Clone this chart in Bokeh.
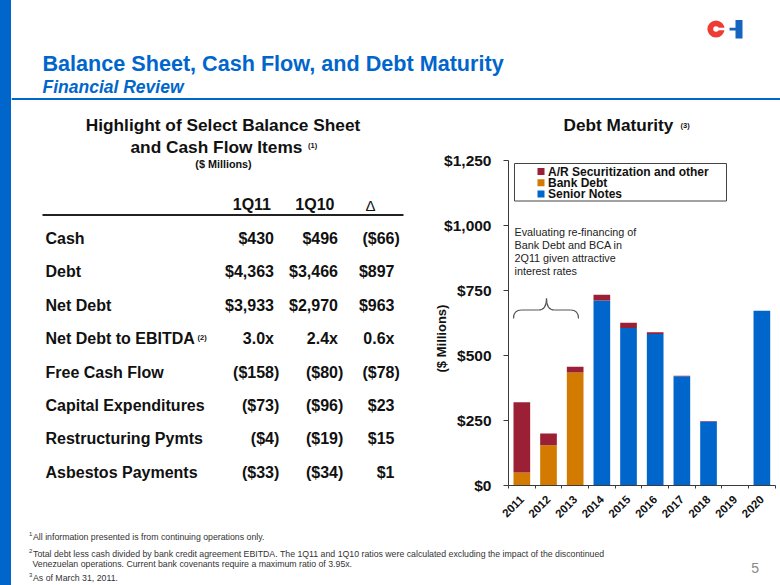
from math import pi
from bokeh.plotting import figure
from bokeh.models import (Range1d, LinearAxis, FixedTicker, NumeralTickFormatter,
                          ColumnDataSource, Div)
from bokeh.layouts import column, row
from bokeh.core.properties import value
from bokeh.embed import file_html
from bokeh.resources import INLINE

# ------------------------------------------------------------------ data
years = ["2011", "2012", "2013", "2014", "2015", "2016", "2017", "2018", "2019", "2020"]
senior_notes = [0, 0, 0, 712, 606, 583, 420, 246, 0, 672]
bank_debt = [50, 155, 435, 0, 0, 0, 0, 0, 0, 0]
ar_securitization = [270, 45, 22, 22, 20, 6, 2, 2, 0, 0]
series_names = ["Senior Notes", "Bank Debt", "A/R Securitization and other"]
y_ticks = [0, 250, 500, 750, 1000, 1250]

row_labels = ["Cash", "Debt", "Net Debt", "Net Debt to EBITDA", "Free Cash Flow",
              "Capital Expenditures", "Restructuring Pymts", "Asbestos Payments"]
col_headers = ["1Q11", "1Q10", "\u0394"]
vals_1q11 = ["$430", "$4,363", "$3,933", "3.0x", "($158)", "($73)", "($4)", "($33)"]
vals_1q10 = ["$496", "$3,466", "$2,970", "2.4x", "($80)", "($96)", "($19)", "($34)"]
vals_delta = ["($66)", "$897", "$963", "0.6x", "($78)", "$23", "$15", "$1"]

footnote_1 = "All information presented is from continuing operations only."
footnote_2a = ("Total debt less cash divided by bank credit agreement EBITDA. The 1Q11 and 1Q10 "
               "ratios were calculated excluding the impact of the discontinued")
footnote_2b = "Venezuelan operations. Current bank covenants require a maximum ratio of 3.95x."
footnote_3 = "As of March 31, 2011."

# ------------------------------------------------------------------ style
BLUE = "#0066CC"
ORANGE = "#D27B00"
MAROON = "#9B1F35"
FONT = "Liberation Sans"
INK = "#111111"
AXC = "#3a3a3a"
NBSP = "\u00a0"


def blank(w, h, x0, y0, bottom_border=0):
    p = figure(width=w, height=h, x_range=Range1d(x0, x0 + w),
               y_range=Range1d(y0 + h - bottom_border, y0),
               output_backend="svg", toolbar_location=None, x_axis_type=None,
               y_axis_type=None, min_border=0, min_border_bottom=bottom_border,
               outline_line_color=None, background_fill_color="white",
               border_fill_color="white")
    return p


def txt(p, x, y, s, size, style="normal", color=INK, align="left", **kw):
    """y is the alphabetic baseline; drawn with a middle baseline."""
    xs = x if isinstance(x, list) else [x]
    ys = y if isinstance(y, list) else [y]
    ss = s if isinstance(s, list) else [s]
    p.text(x=xs, y=[v - 0.35 * size for v in ys], text=ss, text_font=value(FONT),
           text_font_size=f"{size}px", text_font_style=style, text_color=color,
           text_align=align, text_baseline="middle", **kw)


# ------------------------------------------------------------------ left strip
strip = Div(text="", width=11, height=585, margin=0, styles={"background-color": BLUE})

# ------------------------------------------------------------------ header
head = blank(769, 108, 11, 0)
txt(head, 42, 71, "Balance Sheet, Cash Flow, and Debt Maturity", 21.6, "bold", BLUE)
txt(head, 42, 92.5, "Financial Review", 17.5, "bold italic", BLUE)
head.segment(x0=[11], y0=[98.5], x1=[780], y1=[98.5], line_color=BLUE, line_width=2)
# logo
head.circle(x=[715.5], y=[28.5], radius=8.6, fill_color="#EE3B33", line_color=None)
head.circle(x=[715.5], y=[28.5], radius=2.8, fill_color="white", line_color=None)
head.quad(left=[715.5], right=[725], top=[27.3], bottom=[29.8], fill_color="white", line_color=None)
head.quad(left=[729], right=[736], top=[27.3], bottom=[30], fill_color="#1565C0", line_color=None)
head.quad(left=[735], right=[742], top=[19.5], bottom=[38], fill_color="#1565C0", line_color=None)

# ------------------------------------------------------------------ table (left)
FR_T, FR_B = 108, 485
tab = blank(404, 418, 11, 108, bottom_border=526 - FR_B)
txt(tab, 222.5, 131, "Highlight of Select Balance Sheet", 17.3, "bold", align="center")
txt(tab, 130, 152.5, "and Cash Flow Items", 17.3, "bold")
txt(tab, 307.5, 148, "(1)", 7.5, "bold")
txt(tab, 223, 167.5, "($ Millions)", 10.8, "bold", align="center")

txt(tab, [270.5, 334], [210, 210], col_headers[:2], 16, "bold", align="right")
txt(tab, 370, 210, col_headers[2], 15, "normal", align="center")
tab.segment(x0=[42], y0=[214.5], x1=[403], y1=[214.5], line_color="#222222", line_width=2)

row_base = [243.3 + 33.45 * i for i in range(len(row_labels))]
txt(tab, [45] * len(row_labels), row_base, row_labels, 16, "bold")
PAREN = 5.3
for col_right, vals in ((273.5, vals_1q11), (337.5, vals_1q10), (394.0, vals_delta)):
    xs = [col_right + (PAREN if v.endswith(")") else 0) for v in vals]
    txt(tab, xs, row_base, vals, 16, "bold", align="right")
txt(tab, 197, row_base[3] - 4.5, "(2)", 7.5, "bold")

# ------------------------------------------------------------------ chart (right)
CAT_W = 26.67
FR_L, FR_R = 508, 780
Y0_PX, YTOP_PX = 485, 160
chart = figure(width=FR_R - 415, height=418,
               x_range=Range1d(0, (FR_R - FR_L) / CAT_W),
               y_range=Range1d(0, y_ticks[-1] * (FR_B - FR_T) / (Y0_PX - YTOP_PX)),
               output_backend="svg", toolbar_location=None, x_axis_type=None,
               y_axis_type=None, min_border_left=FR_L - 415, min_border_right=0,
               min_border_top=0, min_border_bottom=526 - FR_B, outline_line_color=None,
               background_fill_color="white", border_fill_color="white")
chart.extra_x_ranges = {"px": Range1d(FR_L, FR_R)}
chart.extra_y_ranges = {"py": Range1d(FR_B, FR_T)}

centers = [i + 0.5 for i in range(len(years))]
src = ColumnDataSource(dict(x=centers, senior=senior_notes, bank=bank_debt, ar=ar_securitization))
chart.vbar_stack(["senior", "bank", "ar"], x="x", width=0.625, source=src,
                 fill_color=[BLUE, ORANGE, MAROON], line_color=None)

yax = LinearAxis(ticker=FixedTicker(ticks=y_ticks), formatter=NumeralTickFormatter(format="$0,0"),
                 bounds=(y_ticks[0], y_ticks[-1]), major_tick_in=0, major_tick_out=5,
                 minor_tick_in=0, minor_tick_out=0, major_label_standoff=12,
                 major_label_text_font=FONT, major_label_text_font_style="bold",
                 major_label_text_font_size="15.5px", major_label_text_color=INK,
                 axis_line_color=AXC, major_tick_line_color=AXC,
                 axis_label="($ Millions)" + NBSP * 23, axis_label_standoff=-8,
                 axis_label_text_font=FONT, axis_label_text_font_style="bold",
                 axis_label_text_font_size="13px", axis_label_text_color=INK)
chart.add_layout(yax, "left")

xax = LinearAxis(ticker=FixedTicker(ticks=centers, minor_ticks=list(range(len(years) + 1))),
                 major_label_overrides={c: y for c, y in zip(centers, years)},
                 bounds=(0, len(years)), major_tick_in=0, major_tick_out=0,
                 minor_tick_in=0, minor_tick_out=3, major_label_orientation=pi / 4,
                 major_label_standoff=9, major_label_text_font=FONT,
                 major_label_text_font_style="bold", major_label_text_font_size="11.5px",
                 major_label_text_color=INK, axis_line_color=AXC, minor_tick_line_color=AXC)
chart.add_layout(xax, "below")

PX = dict(x_range_name="px", y_range_name="py")
txt(chart, 618, 131, "Debt Maturity", 17.2, "bold", align="center", **PX)
txt(chart, 680, 127.5, "(3)", 7.5, "bold", **PX)

# legend
chart.quad(left=[514], right=[726], top=[163], bottom=[200.5], fill_color="white",
           line_color="#444444", line_width=1, **PX)
leg_names = series_names[::-1]
leg_cols = [MAROON, ORANGE, BLUE]
leg_y = [171, 182.2, 193.4]
chart.quad(left=[537] * 3, right=[544] * 3, top=[c - 3.5 for c in leg_y],
           bottom=[c + 3.5 for c in leg_y], fill_color=leg_cols, line_color=None, **PX)
txt(chart, [547.5] * 3, [c + 4.3 for c in leg_y], leg_names, 12, "bold", **PX)

# annotation + brace
note = ["Evaluating re-financing of", "Bank Debt and BCA in", "2Q11 given attractive",
        "interest rates"]
txt(chart, [514] * 4, [235 + 13.1 * i for i in range(4)], note, 10.8, color="#222222", **PX)
BR = "#555555"
chart.quadratic(x0=[513, 546, 546, 578], y0=[318, 298, 298, 318],
                x1=[521, 538, 554, 570], y1=[309.5, 309.5, 309.5, 309.5],
                cx=[513, 546, 546, 578], cy=[309.5, 309.5, 309.5, 309.5],
                line_color=BR, line_width=1.2, **PX)
chart.segment(x0=[521, 554], y0=[309.5, 309.5], x1=[538, 570], y1=[309.5, 309.5],
              line_color=BR, line_width=1.2, **PX)

# ------------------------------------------------------------------ footer
foot = blank(769, 59, 11, 526)
NOTE_C = "#333333"
txt(foot, [28.5, 28.5, 28.5], [535.5, 552.5, 576.5], ["1", "2", "3"], 6, color=NOTE_C)
txt(foot, [32.5, 32.5, 32, 32.5], [539.5, 556.5, 566.5, 580.5],
    [footnote_1, footnote_2a, footnote_2b, footnote_3], 8.75, color=NOTE_C)
txt(foot, 758.5, 572.5, "5", 14, color="#888888", align="right")

layout = row(strip, column(head, row(tab, chart), foot))
open("out.html", "w").write(file_html(layout, INLINE))
